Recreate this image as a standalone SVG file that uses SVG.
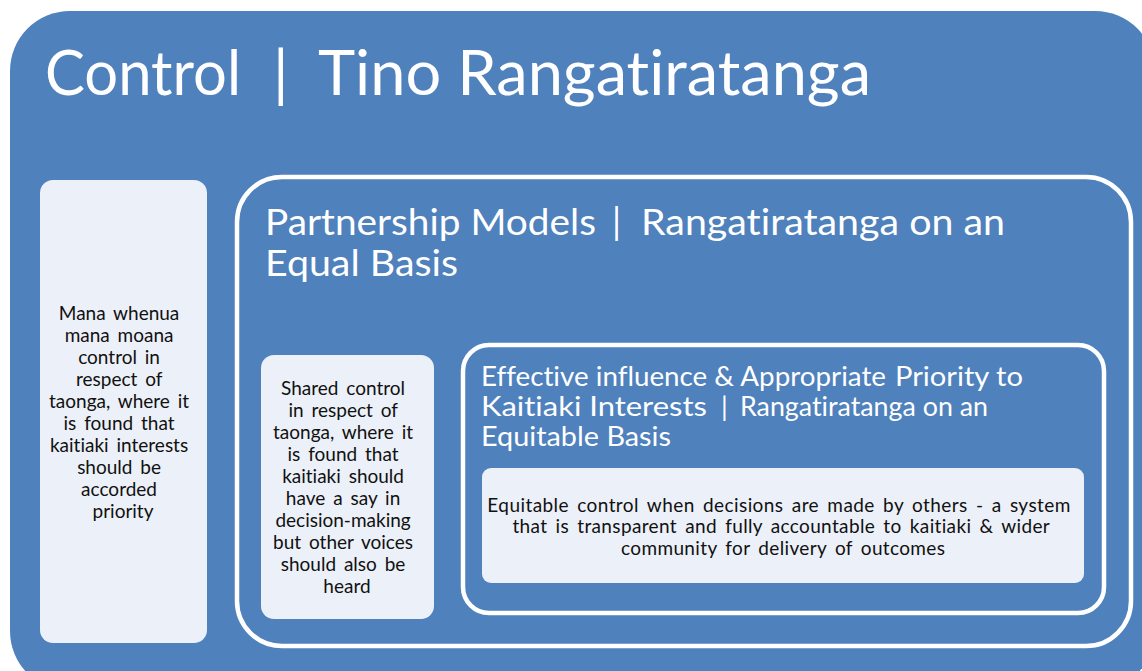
<svg xmlns="http://www.w3.org/2000/svg" width="1142" height="671" viewBox="0 0 1142 671">
  <style>
    text { font-variant-ligatures: none; }
    .panel { fill: #4f81bd; }
    .ring { fill: #4f81bd; stroke: #ffffff; stroke-width: 4.5; }
    .card { fill: #ecf0f8; }
    .head { font-family: Lato, "Open Sans", sans-serif; fill: #ffffff; }
    .body { font-family: Lato, "Open Sans", sans-serif; fill: #111111; font-size: 19px; text-anchor: middle; word-spacing: 3px; }
  </style>
  <rect width="1142" height="671" fill="#ffffff"/>

  <!-- outer panel -->
  <g id="control">
    <rect class="panel" x="10" y="11" width="1145" height="680" rx="60" ry="60"/>
    <text class="head" font-size="62">
      <tspan x="45" y="95" textLength="196" lengthAdjust="spacingAndGlyphs">Control</tspan>
      <tspan x="273" y="95">|</tspan>
      <tspan x="318" y="95" textLength="553" lengthAdjust="spacingAndGlyphs">Tino Rangatiratanga</tspan>
    </text>
  </g>

  <!-- left card -->
  <g id="mana-whenua">
    <rect class="card" x="40" y="180" width="167" height="463" rx="13" ry="13"/>
    <text class="body">
      <tspan x="123" y="320">Mana whenua</tspan>
      <tspan x="123" y="342">mana moana</tspan>
      <tspan x="123" y="364">control in</tspan>
      <tspan x="123" y="386">respect of</tspan>
      <tspan x="123" y="408">taonga, where it</tspan>
      <tspan x="123" y="430">is found that</tspan>
      <tspan x="123" y="452">kaitiaki interests</tspan>
      <tspan x="123" y="474">should be</tspan>
      <tspan x="123" y="496">accorded</tspan>
      <tspan x="123" y="518">priority</tspan>
    </text>
  </g>

  <!-- partnership ring -->
  <g id="partnership">
    <rect class="ring" x="237" y="177" width="894" height="469" rx="45" ry="45"/>
    <text class="head" font-size="36">
      <tspan x="265" y="235" textLength="331" lengthAdjust="spacingAndGlyphs">Partnership Models</tspan>
      <tspan x="612" y="235">|</tspan>
      <tspan x="641" y="235" textLength="364" lengthAdjust="spacingAndGlyphs">Rangatiratanga on an</tspan>
      <tspan x="265" y="276" textLength="193" lengthAdjust="spacingAndGlyphs">Equal Basis</tspan>
    </text>
  </g>

  <!-- shared control card -->
  <g id="shared-control">
    <rect class="card" x="261" y="355" width="173" height="264" rx="13" ry="13"/>
    <text class="body">
      <tspan x="347" y="395">Shared control</tspan>
      <tspan x="347" y="417">in respect of</tspan>
      <tspan x="347" y="439">taonga, where it</tspan>
      <tspan x="347" y="461">is found that</tspan>
      <tspan x="347" y="483">kaitiaki should</tspan>
      <tspan x="347" y="505">have a say in</tspan>
      <tspan x="347" y="527">decision-making</tspan>
      <tspan x="347" y="549">but other voices</tspan>
      <tspan x="347" y="571">should also be</tspan>
      <tspan x="347" y="593">heard</tspan>
    </text>
  </g>

  <!-- effective influence ring -->
  <g id="effective-influence">
    <rect class="ring" x="463" y="345" width="641" height="268" rx="26" ry="26"/>
    <text class="head" font-size="27">
      <tspan x="481" y="386" textLength="405" lengthAdjust="spacingAndGlyphs">Effective influence &amp; Appropriate</tspan>
      <tspan x="895" y="386" textLength="128" lengthAdjust="spacingAndGlyphs">Priority to</tspan>
      <tspan x="481" y="416" textLength="226" lengthAdjust="spacingAndGlyphs">Kaitiaki Interests</tspan>
      <tspan x="721" y="416">|</tspan>
      <tspan x="740" y="416" textLength="248" lengthAdjust="spacingAndGlyphs">Rangatiratanga on an</tspan>
      <tspan x="481" y="446" textLength="190" lengthAdjust="spacingAndGlyphs">Equitable Basis</tspan>
    </text>
  </g>

  <!-- equitable control card -->
  <g id="equitable-control">
    <rect class="card" x="482" y="468" width="602" height="115" rx="9" ry="9"/>
    <text class="body" font-size="18">
      <tspan x="783" y="512" textLength="583" lengthAdjust="spacing">Equitable control when decisions are made by others - a system</tspan>
      <tspan x="785" y="533" textLength="537" lengthAdjust="spacing">that is transparent and fully accountable to kaitiaki &amp; wider</tspan>
      <tspan x="783" y="555" textLength="324" lengthAdjust="spacing">community for delivery of outcomes</tspan>
    </text>
  </g>
</svg>
